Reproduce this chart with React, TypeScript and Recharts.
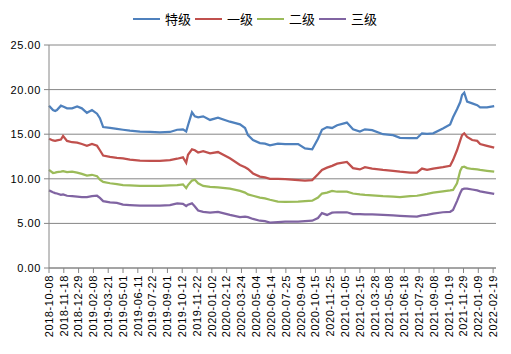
import { CartesianGrid, Line, LineChart, XAxis, YAxis } from 'recharts';

const AXIS = '#868686';
const FONT = '"Liberation Sans", Arial, sans-serif';

// 取样日期（约每 1~3 周一个点）
const DATES = [
  '2018-10-08', '2018-10-19', '2018-10-25', '2018-10-30', '2018-11-10', '2018-11-16', '2018-11-27',
  '2018-12-11', '2018-12-25', '2019-01-07', '2019-01-21', '2019-02-04', '2019-02-18', '2019-02-26',
  '2019-03-07', '2019-03-26', '2019-04-14', '2019-05-01', '2019-05-20', '2019-06-17', '2019-07-15',
  '2019-08-11', '2019-09-08', '2019-09-28', '2019-10-14', '2019-10-23', '2019-10-28', '2019-11-08',
  '2019-11-16', '2019-11-25', '2019-12-09', '2019-12-28', '2020-01-19', '2020-02-21', '2020-03-20',
  '2020-04-03', '2020-04-11', '2020-04-25', '2020-05-14', '2020-05-28', '2020-06-11', '2020-07-03',
  '2020-07-23', '2020-08-28', '2020-09-16', '2020-10-06', '2020-10-22', '2020-11-02', '2020-11-16',
  '2020-11-30', '2020-12-14', '2021-01-10', '2021-01-27', '2021-02-15', '2021-03-01', '2021-03-21',
  '2021-04-20', '2021-05-18', '2021-06-06', '2021-07-04', '2021-07-23', '2021-08-06', '2021-08-20',
  '2021-09-06', '2021-10-03', '2021-10-23', '2021-10-31', '2021-11-11', '2021-11-20', '2021-11-25',
  '2021-12-01', '2021-12-09', '2021-12-23', '2022-01-06', '2022-01-14', '2022-02-02', '2022-02-22',
];

const TEJI = [
  18.2, 17.7, 17.6, 17.7, 18.2, 18.1, 17.9, 17.9, 18.1, 17.9, 17.4, 17.7, 17.3, 16.8,
  15.8, 15.7, 15.6, 15.5, 15.4, 15.3, 15.25, 15.2, 15.25, 15.5, 15.55, 15.3, 16.0, 17.45,
  17.0, 16.9, 17.0, 16.6, 16.85, 16.4, 16.1, 15.7, 14.9, 14.35, 14.0, 13.95, 13.75, 13.95,
  13.9, 13.9, 13.4, 13.3, 14.5, 15.5, 15.8, 15.7, 16.0, 16.3, 15.55, 15.3, 15.55, 15.45,
  15.0, 14.9, 14.6, 14.55, 14.55, 15.1, 15.05, 15.1, 15.65, 16.1, 16.9, 17.8, 18.6, 19.4,
  19.65, 18.65, 18.45, 18.25, 18.0, 18.0, 18.15,
];

const YIJI = [
  14.5, 14.3, 14.25, 14.3, 14.4, 14.8, 14.25, 14.1, 14.05, 13.9, 13.7, 13.9, 13.7, 13.2,
  12.6, 12.45, 12.35, 12.3, 12.15, 12.05, 12.0, 12.0, 12.1, 12.25, 12.4, 11.8, 12.7, 13.3,
  13.2, 12.95, 13.1, 12.85, 13.0, 12.3, 11.55, 11.3, 11.1, 10.6, 10.25, 10.15, 10.0, 10.0,
  9.95, 9.85, 9.8, 9.85, 10.5, 11.0, 11.25, 11.45, 11.7, 11.9, 11.2, 11.05, 11.3, 11.15,
  11.0, 10.9, 10.8, 10.7, 10.7, 11.15, 11.0, 11.15, 11.3, 11.45, 12.1, 13.2, 14.3, 14.9,
  15.1, 14.7, 14.35, 14.25, 13.9, 13.7, 13.5,
];

const ERJI = [
  11.0, 10.65, 10.7, 10.75, 10.8, 10.85, 10.75, 10.8, 10.7, 10.55, 10.35, 10.45, 10.3, 9.9,
  9.65, 9.5, 9.4, 9.3, 9.25, 9.2, 9.2, 9.2, 9.25, 9.3, 9.38, 8.95, 9.3, 9.8,
  9.9, 9.5, 9.2, 9.1, 9.05, 8.9, 8.65, 8.45, 8.25, 8.1, 7.9, 7.8, 7.65, 7.45,
  7.4, 7.45, 7.5, 7.55, 7.9, 8.35, 8.45, 8.65, 8.55, 8.55, 8.35, 8.25, 8.2, 8.15,
  8.05, 8.0, 7.95, 8.05, 8.1, 8.2, 8.3, 8.45, 8.6, 8.7, 8.75, 9.5, 10.9, 11.3,
  11.35, 11.2, 11.1, 11.05, 11.0, 10.9, 10.8,
];

const SANJI = [
  8.7, 8.5, 8.4, 8.35, 8.2, 8.25, 8.1, 8.05, 8.0, 7.95, 7.95, 8.05, 8.1, 7.85,
  7.5, 7.35, 7.3, 7.1, 7.05, 7.0, 7.0, 7.0, 7.05, 7.25, 7.2, 6.95, 7.1, 7.25,
  6.9, 6.45, 6.3, 6.2, 6.3, 5.95, 5.7, 5.75, 5.7, 5.5, 5.3, 5.25, 5.1, 5.15,
  5.2, 5.2, 5.25, 5.3, 5.6, 6.15, 5.95, 6.2, 6.25, 6.25, 6.05, 6.05, 6.0, 6.0,
  5.95, 5.9, 5.85, 5.8, 5.75, 5.9, 5.95, 6.1, 6.25, 6.3, 6.5, 7.5, 8.4, 8.8,
  8.9, 8.9, 8.8, 8.7, 8.6, 8.45, 8.3,
];

const X_TICKS = [
  '2018-10-08', '2018-11-18', '2018-12-29', '2019-02-08', '2019-03-21', '2019-05-01', '2019-06-11',
  '2019-07-22', '2019-09-01', '2019-10-12', '2019-11-22', '2020-01-02', '2020-02-12', '2020-03-24',
  '2020-05-04', '2020-06-14', '2020-07-25', '2020-09-04', '2020-10-15', '2020-11-25', '2021-01-05',
  '2021-02-15', '2021-03-28', '2021-05-08', '2021-06-18', '2021-07-29', '2021-09-08', '2021-10-19',
  '2021-11-29', '2022-01-09', '2022-02-19',
];
const X_END = '2022-02-27';
const Y_TICKS = [0, 5, 10, 15, 20, 25];

const SERIES = [
  { key: 'teji', name: '特级', color: '#4F81BD' },
  { key: 'yiji', name: '一级', color: '#C0504D' },
  { key: 'erji', name: '二级', color: '#9BBB59' },
  { key: 'sanji', name: '三级', color: '#8064A2' },
];

const data = DATES.map((d, i) => ({
  t: Date.parse(d),
  teji: TEJI[i],
  yiji: YIJI[i],
  erji: ERJI[i],
  sanji: SANJI[i],
}));

const fmtDate = (v: number) => new Date(v).toISOString().slice(0, 10);

function DateTick({ x, y, payload }: any) {
  return (
    <text
      x={x}
      y={y}
      transform={`rotate(-90 ${x} ${y})`}
      textAnchor="end"
      dy="0.35em"
      fontSize={11}
      fontFamily={FONT}
      letterSpacing={0.6}
      fill="#000"
    >
      {fmtDate(payload.value)}
    </text>
  );
}

export default function App() {
  return (
    <div style={{ position: 'absolute', left: 0, top: 0, width: 511, height: 354, background: '#fff' }}>
      <div
        style={{
          position: 'absolute',
          top: 10,
          left: 133,
          display: 'flex',
          gap: 4,
          fontFamily: '"Noto Sans CJK SC", sans-serif',
          fontSize: 13,
          lineHeight: '18px',
          color: '#000',
        }}
      >
        {SERIES.map((s) => (
          <span key={s.key} style={{ display: 'flex', alignItems: 'center', gap: 5, width: 58 }}>
            <span style={{ width: 27, height: 2.5, background: s.color, display: 'inline-block' }} />
            <span>{s.name}</span>
          </span>
        ))}
      </div>
      <LineChart width={511} height={354} data={data} margin={{ top: 45, right: 15, left: 0, bottom: 0 }}>
        <CartesianGrid vertical={false} stroke={AXIS} />
        <XAxis
          dataKey="t"
          type="number"
          scale="linear"
          domain={[Date.parse(X_TICKS[0]), Date.parse(X_END)]}
          ticks={X_TICKS.map((d) => Date.parse(d))}
          interval={0}
          height={86}
          tickSize={5}
          tickMargin={2}
          axisLine={{ stroke: AXIS }}
          tickLine={{ stroke: AXIS }}
          tick={<DateTick />}
        />
        <YAxis
          type="number"
          domain={[0, 25]}
          ticks={Y_TICKS}
          width={49}
          tickSize={5}
          tickMargin={3}
          axisLine={{ stroke: AXIS }}
          tickLine={{ stroke: AXIS }}
          tick={{ fontSize: 11, fill: '#000', fontFamily: FONT, letterSpacing: 0.6 }}
          tickFormatter={(v: number) => v.toFixed(2)}
        />
        {SERIES.map((s) => (
          <Line
            key={s.key}
            type="linear"
            dataKey={s.key}
            name={s.name}
            stroke={s.color}
            strokeWidth={2.25}
            dot={false}
            isAnimationActive={false}
          />
        ))}
      </LineChart>
    </div>
  );
}
